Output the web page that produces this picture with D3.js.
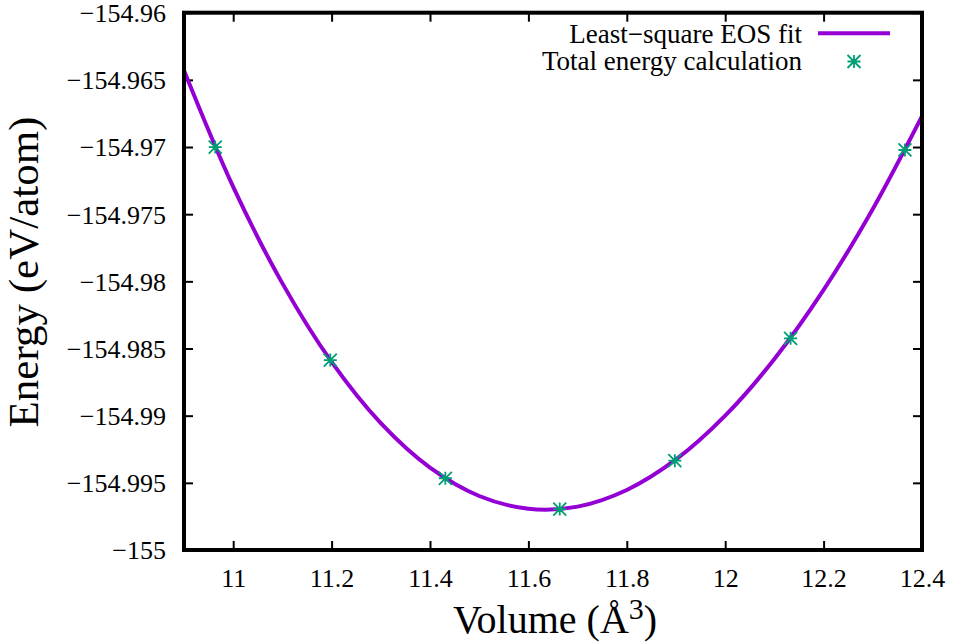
<!DOCTYPE html>
<html>
<head>
<meta charset="utf-8">
<script src="https://cdn.jsdelivr.net/npm/d3@7"></script>
<style>
  html, body { margin: 0; padding: 0; background: #fff; }
  svg { display: block; }
</style>
</head>
<body>
<svg id="chart" width="953" height="644"></svg>
<script>
// Total energy per atom computed at each cell volume (Å^3, eV/atom)
const volumes  = [10.9635, 11.1973, 11.4312, 11.6637, 11.8976, 12.1329, 12.3653];
const energies = [-154.97000, -154.98586, -154.99466, -154.99695, -154.99335, -154.98424, -154.97022];

// Least-square equation-of-state fit, sampled along the volume axis
const fitVolumes  = [10.9, 11.0, 11.1, 11.2, 11.3, 11.4, 11.5, 11.6, 11.7, 11.8, 11.9, 12.0, 12.1, 12.2, 12.3, 12.4];
const fitEnergies = [-154.96430, -154.97297, -154.98015, -154.98600, -154.99056, -154.99387, -154.99598, -154.99693,
                     -154.99677, -154.99553, -154.99326, -154.99000, -154.98578, -154.98064, -154.97461, -154.96770];

// Axis ticks
const xTickValues = [11, 11.2, 11.4, 11.6, 11.8, 12, 12.2, 12.4];
const xTickLabels = ["11", "11.2", "11.4", "11.6", "11.8", "12", "12.2", "12.4"];
const yTickValues = [-155, -154.995, -154.99, -154.985, -154.98, -154.975, -154.97, -154.965, -154.96];
const yTickLabels = ["\u2212155", "\u2212154.995", "\u2212154.99", "\u2212154.985", "\u2212154.98",
                     "\u2212154.975", "\u2212154.97", "\u2212154.965", "\u2212154.96"];

// Legend entries
const legendLabels = ["Least\u2212square EOS fit", "Total energy calculation"];

const lineColor = "#9400d3";
const pointColor = "#009e73";
const serif = "Liberation Serif, DejaVu Serif, Noto Serif, serif";

const svg = d3.select("#chart");
const plot = { left: 184, right: 922, top: 12.7, bottom: 550 };

const x = d3.scaleLinear().domain([10.9, 12.4]).range([plot.left, plot.right]);
const y = d3.scaleLinear().domain([-155, -154.96]).range([plot.bottom, plot.top]);

// gnuplot-style asterisk: a plus overlaid with a cross
const asterisk = {
  draw(context, size) {
    const r = Math.sqrt(size) / 2;
    context.moveTo(-r, 0); context.lineTo(r, 0);
    context.moveTo(0, -r); context.lineTo(0, r);
    context.moveTo(-r, -r); context.lineTo(r, r);
    context.moveTo(-r, r); context.lineTo(r, -r);
  }
};
const star = d3.symbol().type(asterisk).size(169);

svg.append("defs").append("clipPath").attr("id", "plot-clip")
  .append("rect")
  .attr("x", plot.left).attr("y", plot.top)
  .attr("width", plot.right - plot.left).attr("height", plot.bottom - plot.top);

// Axes with inward ticks, mirrored on top and right
const tickLen = 9;
const styleAxis = g => {
  g.attr("font-family", null).attr("font-size", null);
  g.select(".domain").remove();
  g.selectAll(".tick line").attr("stroke", "#000").attr("stroke-width", 2);
};

const xAxis = svg.append("g")
  .attr("transform", `translate(0,${plot.bottom})`)
  .call(d3.axisBottom(x).tickValues(xTickValues)
    .tickFormat((d, i) => xTickLabels[i]).tickSize(-tickLen).tickPadding(0))
  .call(styleAxis);
xAxis.selectAll(".tick text")
  .attr("y", 37).attr("dy", null)
  .style("font-family", serif).style("font-size", "26px")
  .attr("fill", "#000");

svg.append("g")
  .attr("transform", `translate(0,${plot.top})`)
  .call(d3.axisTop(x).tickValues(xTickValues).tickFormat("").tickSize(-tickLen))
  .call(styleAxis);

const yAxis = svg.append("g")
  .attr("transform", `translate(${plot.left},0)`)
  .call(d3.axisLeft(y).tickValues(yTickValues)
    .tickFormat((d, i) => yTickLabels[i]).tickSize(-tickLen).tickPadding(0))
  .call(styleAxis);
yAxis.selectAll(".tick text")
  .attr("x", -18).attr("dy", "0.34em")
  .style("font-family", serif).style("font-size", "26px")
  .attr("fill", "#000");

svg.append("g")
  .attr("transform", `translate(${plot.right},0)`)
  .call(d3.axisRight(y).tickValues(yTickValues).tickFormat("").tickSize(-tickLen))
  .call(styleAxis);

// Fitted curve
const fitLine = d3.line()
  .x((d, i) => x(fitVolumes[i]))
  .y(d => y(d))
  .curve(d3.curveCatmullRom.alpha(0.5));

svg.append("path")
  .attr("clip-path", "url(#plot-clip)")
  .attr("d", fitLine(fitEnergies))
  .attr("fill", "none")
  .attr("stroke", lineColor)
  .attr("stroke-width", 4)
  .attr("stroke-linejoin", "round");

// Computed points
svg.append("g").selectAll("path")
  .data(energies)
  .join("path")
  .attr("transform", (d, i) => `translate(${x(volumes[i])},${y(d)})`)
  .attr("d", star())
  .attr("fill", "none")
  .attr("stroke", pointColor)
  .attr("stroke-width", 1.8);

// Frame
svg.append("rect")
  .attr("x", plot.left).attr("y", plot.top)
  .attr("width", plot.right - plot.left).attr("height", plot.bottom - plot.top)
  .attr("fill", "none").attr("stroke", "#000").attr("stroke-width", 4);

// Legend
const legend = svg.append("g");
legend.selectAll("text")
  .data(legendLabels)
  .join("text")
  .attr("x", 802)
  .attr("y", (d, i) => 42.5 + i * 27)
  .attr("text-anchor", "end")
  .style("font-family", serif).style("font-size", "27px")
  .attr("fill", "#000")
  .text(d => d);
legend.append("line")
  .attr("x1", 818).attr("x2", 890).attr("y1", 33.3).attr("y2", 33.3)
  .attr("stroke", lineColor).attr("stroke-width", 4);
legend.append("path")
  .attr("transform", "translate(854,61.5)")
  .attr("d", star())
  .attr("fill", "none").attr("stroke", pointColor).attr("stroke-width", 1.8);

// Axis titles
const xTitle = svg.append("text")
  .attr("x", 555).attr("y", 633)
  .attr("text-anchor", "middle")
  .style("font-family", serif).style("font-size", "40px")
  .attr("fill", "#000");
xTitle.append("tspan").text("Volume (\u00c5");
xTitle.append("tspan").style("font-size", "30px").attr("dy", -14).text("3");
xTitle.append("tspan").attr("dy", 14).text(")");

svg.append("text")
  .attr("transform", "translate(38,272) rotate(-90)")
  .attr("text-anchor", "middle")
  .style("font-family", serif).style("font-size", "43px")
  .attr("fill", "#000")
  .text("Energy (eV/atom)");
</script>
</body>
</html>
